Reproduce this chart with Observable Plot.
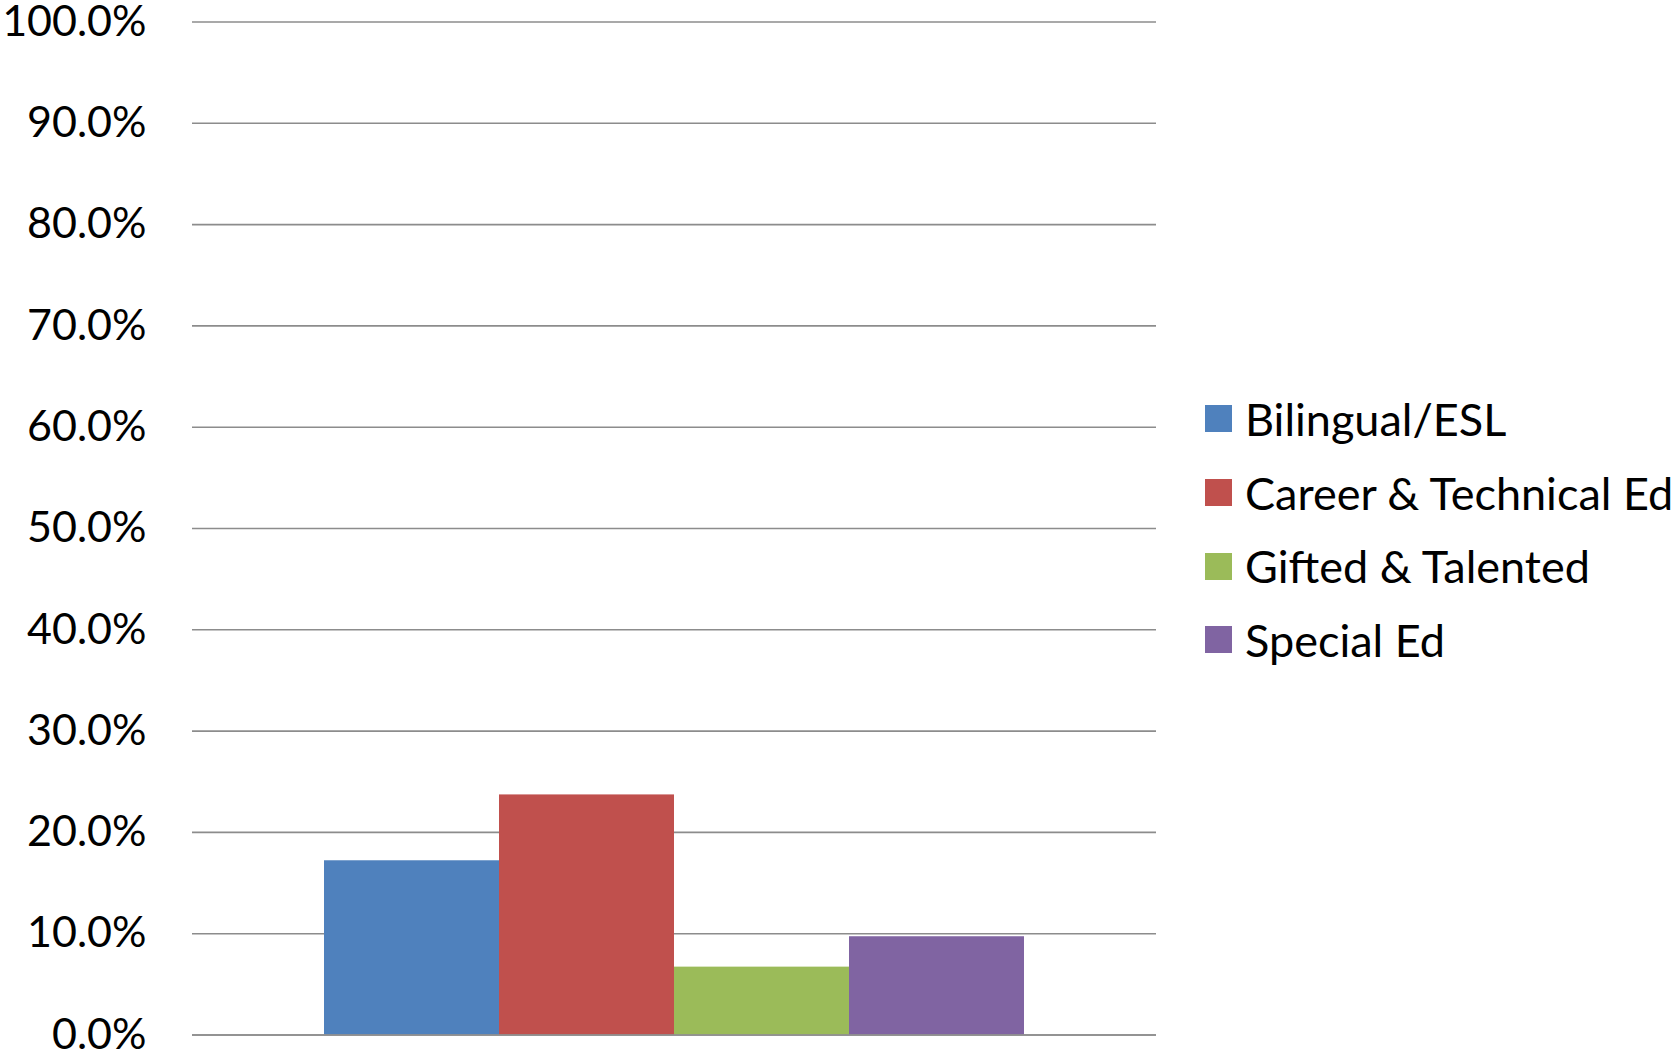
<!DOCTYPE html>
<html>
<head>
<meta charset="utf-8">
<script src="https://cdn.jsdelivr.net/npm/d3@7"></script>
<script src="https://cdn.jsdelivr.net/npm/@observablehq/plot@0.6"></script>
<style>
  html, body { margin: 0; padding: 0; background: #fff; }
  #wrap { position: relative; width: 1671px; height: 1052px; overflow: hidden; }
  #legend { position: absolute; left: 1205px; top: 382px; font-family: Lato, "Open Sans", sans-serif; font-size: 45px; color: #000; }
  .item { display: flex; align-items: center; height: 73.7px; white-space: nowrap; }
  .sw { width: 27px; height: 27px; margin-right: 13px; flex: none; }
</style>
</head>
<body>
<div id="wrap"><div id="legend"></div></div>
<script>
const categories = ["Bilingual/ESL", "Career & Technical Ed", "Gifted & Talented", "Special Ed"];
const values = [0.172, 0.237, 0.067, 0.097];
const colors = ["#4F81BD", "#C0504D", "#9BBB59", "#8064A2"];
const yTicks = [0, 0.1, 0.2, 0.3, 0.4, 0.5, 0.6, 0.7, 0.8, 0.9, 1.0];

const data = categories.map((c, i) => ({category: c, value: values[i]}));

const chart = Plot.plot({
  width: 1671,
  height: 1052,
  marginLeft: 192,
  marginRight: 515,
  marginTop: 21.5,
  marginBottom: 17.5,
  style: {fontFamily: "Lato, 'Open Sans', sans-serif", fontSize: "43px", color: "#000", background: "#fff", overflow: "visible"},
  x: {domain: categories, paddingInner: 0, paddingOuter: 0.746, axis: null},
  y: {domain: [0, 1], ticks: yTicks, tickFormat: d3.format(".1%"), axis: null},
  color: {domain: categories, range: colors},
  marks: [
    Plot.ruleY(yTicks, {stroke: "#8c8c8c", strokeWidth: 1.6}),
    Plot.barY(data, {x: "category", y: "value", fill: "category"}),
    Plot.ruleY([0], {stroke: "#8c8c8c", strokeWidth: 1.6}),
    Plot.ruleX([0], {frameAnchor: "left", stroke: "#8c8c8c", strokeWidth: 1.6}),
    Plot.axisY({ticks: yTicks, tickFormat: d3.format(".1%"), tickSize: 0, tickPadding: 46, fontSize: 43, fill: "#000", label: null})
  ]
});
document.getElementById("wrap").prepend(chart);
chart.style.position = "absolute";
chart.style.left = "0";
chart.style.top = "0";

const legend = document.getElementById("legend");
categories.forEach((c, i) => {
  const item = document.createElement("div");
  item.className = "item";
  const sw = document.createElement("div");
  sw.className = "sw";
  sw.style.background = colors[i];
  const label = document.createElement("span");
  label.textContent = c;
  item.append(sw, label);
  legend.append(item);
});
</script>
</body>
</html>
